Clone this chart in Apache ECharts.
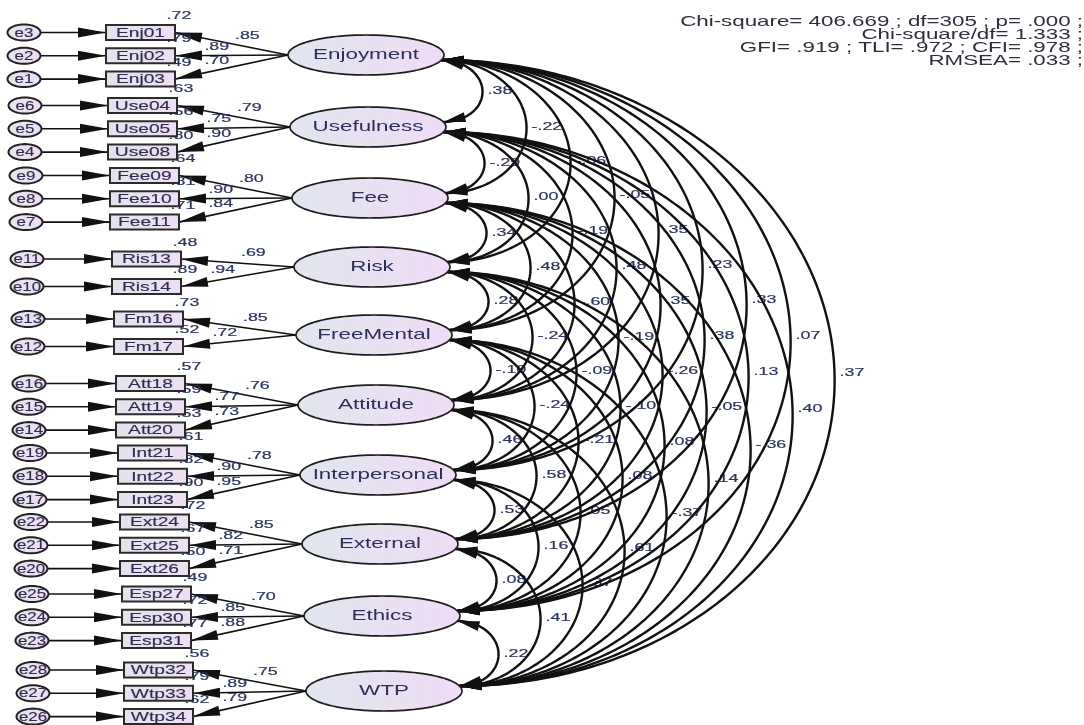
<!DOCTYPE html>
<html>
<head>
<meta charset="utf-8">
<title>CFA measurement model</title>
<script src="https://cdn.jsdelivr.net/npm/echarts/dist/echarts.min.js"></script>
<style>
  html, body { margin: 0; padding: 0; background: #ffffff; }
  #chart { width: 1084px; height: 725px; }
</style>
</head>
<body>
<div id="chart"></div>
<script>
// ---- model content ----
const factors = ['Enjoyment', 'Usefulness', 'Fee', 'Risk', 'FreeMental', 'Attitude', 'Interpersonal', 'External', 'Ethics', 'WTP'];

const indicators = [
  ['Enj01', 'Enj02', 'Enj03'], ['Use04', 'Use05', 'Use08'], ['Fee09', 'Fee10', 'Fee11'],
  ['Ris13', 'Ris14'], ['Fm16', 'Fm17'], ['Att18', 'Att19', 'Att20'],
  ['Int21', 'Int22', 'Int23'], ['Ext24', 'Ext25', 'Ext26'], ['Esp27', 'Esp30', 'Esp31'],
  ['Wtp32', 'Wtp33', 'Wtp34']
];

const errorTerms = [
  ['e3', 'e2', 'e1'], ['e6', 'e5', 'e4'], ['e9', 'e8', 'e7'], ['e11', 'e10'], ['e13', 'e12'],
  ['e16', 'e15', 'e14'], ['e19', 'e18', 'e17'], ['e22', 'e21', 'e20'], ['e25', 'e24', 'e23'],
  ['e28', 'e27', 'e26']
];

// standardized factor loadings
const loadings = [
  [0.85, 0.89, 0.70], [0.79, 0.75, 0.90], [0.80, 0.90, 0.84], [0.69, 0.94], [0.85, 0.72],
  [0.76, 0.77, 0.73], [0.78, 0.90, 0.95], [0.85, 0.82, 0.71], [0.70, 0.85, 0.88], [0.75, 0.89, 0.79]
];

// squared multiple correlations
const smc = [
  [0.72, 0.79, 0.49], [0.63, 0.56, 0.80], [0.64, 0.81, 0.71], [0.48, 0.89], [0.73, 0.52],
  [0.57, 0.59, 0.53], [0.61, 0.82, 0.90], [0.72, 0.67, 0.50], [0.49, 0.72, 0.77], [0.56, 0.79, 0.62]
];

// factor correlations, grouped by how many rows apart the two factors are
const corrSpan1 = [0.38, -0.29, 0.34, 0.28, -0.10, 0.46, 0.53, 0.08, 0.22];
const corrSpan2 = [-0.22, 0.00, 0.48, -0.24, -0.24, 0.58, 0.16, 0.41];
const corrSpan3 = [-0.06, -0.19, -0.60, -0.09, -0.21, 0.05, 0.37];
const corrSpan4 = [-0.05, 0.48, -0.19, -0.10, 0.08, 0.61];
const corrSpan5 = [0.35, 0.35, -0.26, 0.08, -0.37];
const corrSpan6 = [0.23, 0.38, -0.05, 0.14];
const corrSpan7 = [0.33, 0.13, -0.36];
const corrSpan8 = [0.07, 0.40];
const corrSpan9 = [0.37];

const fitLines = [
  'Chi-square= 406.669 ; df=305 ; p= .000 ;',
  'Chi-square/df= 1.333 ;',
  'GFI= .919 ; TLI= .972 ; CFI= .978 ;',
  'RMSEA= .033 ;'
];

// ---- layout ----
const ROW_Y = [55, 127, 198, 267, 335, 405, 475, 544, 616, 691];
const GROUP_TOP = [32.5, 105.5, 175.5, 259, 319, 383.5, 453, 522, 594, 670];
const ELL_RX = 78, ELL_RY = 20;
const BOX_W = 69, BOX_H = 15;
const ERR_RX = 16.5, ERR_RY = 8;
const FONT = '"Liberation Sans", Arial, Helvetica, sans-serif';

const factorCx = i => 366 + 2 * i;
const boxLeft = f => 106 + 2 * f;
const errCx = f => 0.5 * boxLeft(f) - 29;
const indY = (f, k) => GROUP_TOP[f] + k * (indicators[f].length === 3 ? 23.3 : 27.5);

const fmt = v => (v < 0 ? '-' : '') + Math.abs(v).toFixed(2).replace(/^0/, '');

// flat lists built from the arrays above
const items = [];
indicators.forEach((g, f) => g.forEach((name, k) => items.push({
  f, k, name, err: errorTerms[f][k], load: loadings[f][k], r2: smc[f][k]
})));

const pairs = [];
[corrSpan1, corrSpan2, corrSpan3, corrSpan4, corrSpan5, corrSpan6, corrSpan7, corrSpan8, corrSpan9]
  .forEach((row, s) => row.forEach((v, i) => pairs.push({ i, j: i + s + 1, d: s + 1, v })));

// ---- geometry helpers ----
function ellipsePts(api, cx, cy, rx, ry, n) {
  const pts = [];
  for (let t = 0; t < n; t++) {
    const a = 2 * Math.PI * t / n;
    pts.push(api.coord([cx + rx * Math.cos(a), cy + ry * Math.sin(a)]));
  }
  return pts;
}
function arrowHead(tip, from, len, hw) {
  const dx = tip[0] - from[0], dy = tip[1] - from[1];
  const d = Math.hypot(dx, dy) || 1;
  const ux = dx / d, uy = dy / d;
  const bx = tip[0] - ux * len, by = tip[1] - uy * len;
  return [tip, [bx - uy * hw, by + ux * hw], [bx + uy * hw, by - ux * hw]];
}
function pointBack(seq, L) {
  const t = seq[0];
  for (const q of seq) if (Math.hypot(q[0] - t[0], q[1] - t[1]) >= L) return q;
  return seq[seq.length - 1];
}
function rimPoint(i, dy) {
  return [factorCx(i) + ELL_RX * Math.sqrt(1 - (dy / ELL_RY) ** 2), ROW_Y[i] + dy];
}
function arcGeom(p) {
  const A = rimPoint(p.i, 5), B = rimPoint(p.j, -5);
  const s = 40 + 43 * (p.d - 1);
  return { A, B, s };
}
// horizontally stretched text, anchored at (x, y)
function txt(api, x, y, text, size, fill, align, sx, weight) {
  const c = api.coord([x, y]);
  return {
    type: 'text', x: c[0], y: c[1], scaleX: sx,
    style: {
      text, font: size + 'px ' + FONT, fill,
      stroke: fill, lineWidth: weight || 0,
      align: align, verticalAlign: 'middle',
      textAlign: align, textVerticalAlign: 'middle'
    }
  };
}
const dummy = list => list.map((_, i) => [0, 0, i]);
const base = { type: 'custom', coordinateSystem: 'cartesian2d', silent: true, encode: { x: 0, y: 1 } };

const numColor = '#2a3461';

const chart = echarts.init(document.getElementById('chart'));
chart.setOption({
  animation: false,
  backgroundColor: '#ffffff',
  grid: { left: 0, right: 0, top: 0, bottom: 0 },
  xAxis: { type: 'value', min: 0, max: 1084, show: false },
  yAxis: { type: 'value', min: 0, max: 725, inverse: true, show: false },
  series: [
    // correlation values
    Object.assign({}, base, {
      z: 1, data: dummy(pairs),
      renderItem(params, api) {
        const p = pairs[params.dataIndex];
        const g = arcGeom(p);
        const x = (g.A[0] + g.B[0]) / 2 + g.s + 5;
        const y = (g.A[1] + g.B[1]) / 2;
        return txt(api, x, y, fmt(p.v), 11.5, numColor, 'left', 1.55, 0.2);
      }
    }),
    // correlation arcs with double arrowheads
    Object.assign({}, base, {
      z: 2, data: dummy(pairs),
      renderItem(params, api) {
        const p = pairs[params.dataIndex];
        const g = arcGeom(p);
        const n = 40 + 20 * p.d;
        const pts = [];
        for (let t = 0; t <= n; t++) {
          const th = Math.PI * t / n;
          const w = (1 - Math.cos(th)) / 2;
          pts.push(api.coord([g.A[0] + (g.B[0] - g.A[0]) * w + g.s * Math.sin(th),
                              g.A[1] + (g.B[1] - g.A[1]) * w]));
        }
        const L = 22;
        const h1 = arrowHead(pts[0], pointBack(pts, L), L, 5);
        const rev = pts.slice().reverse();
        const h2 = arrowHead(rev[0], pointBack(rev, L), L, 5);
        return {
          type: 'group', children: [
            { type: 'polyline', shape: { points: pts }, style: { stroke: '#111', lineWidth: 2.4, fill: null } },
            { type: 'polygon', shape: { points: h1 }, style: { fill: '#111' } },
            { type: 'polygon', shape: { points: h2 }, style: { fill: '#111' } }
          ]
        };
      }
    }),
    // loading paths and error paths
    Object.assign({}, base, {
      z: 3, data: dummy(items),
      renderItem(params, api) {
        const it = items[params.dataIndex];
        const y = indY(it.f, it.k);
        const F = api.coord([factorCx(it.f) - ELL_RX, ROW_Y[it.f]]);
        const Bt = api.coord([boxLeft(it.f) + BOX_W, y]);
        const E = api.coord([errCx(it.f) + ERR_RX, y]);
        const Bl = api.coord([boxLeft(it.f), y]);
        return {
          type: 'group', children: [
            { type: 'line', shape: { x1: F[0], y1: F[1], x2: Bt[0], y2: Bt[1] }, style: { stroke: '#111', lineWidth: 1.6 } },
            { type: 'polygon', shape: { points: arrowHead(Bt, F, 27, 5) }, style: { fill: '#111' } },
            { type: 'line', shape: { x1: E[0], y1: E[1], x2: Bl[0], y2: Bl[1] }, style: { stroke: '#111', lineWidth: 1.6 } },
            { type: 'polygon', shape: { points: arrowHead(Bl, E, 28, 5) }, style: { fill: '#111' } }
          ]
        };
      }
    }),
    // squared multiple correlations
    Object.assign({}, base, {
      z: 4, data: dummy(items),
      renderItem(params, api) {
        const it = items[params.dataIndex];
        const y = indY(it.f, it.k);
        return txt(api, boxLeft(it.f) + BOX_W + 4, y - BOX_H / 2 - 9, fmt(it.r2), 11.5, numColor, 'center', 1.55, 0.2);
      }
    }),
    // observed variables and their error terms
    Object.assign({}, base, {
      z: 5, data: dummy(items),
      renderItem(params, api) {
        const it = items[params.dataIndex];
        const y = indY(it.f, it.k);
        const tl = api.coord([boxLeft(it.f), y - BOX_H / 2]);
        const br = api.coord([boxLeft(it.f) + BOX_W, y + BOX_H / 2]);
        const ex = errCx(it.f);
        return {
          type: 'group', children: [
            {
              type: 'rect', shape: { x: tl[0], y: tl[1], width: br[0] - tl[0], height: br[1] - tl[1] },
              style: {
                fill: new echarts.graphic.LinearGradient(0, 0, 1, 0, [
                  { offset: 0, color: '#e1e4ec' }, { offset: 1, color: '#eddff3' }]),
                stroke: '#2b2b2b', lineWidth: 2
              }
            },
            txt(api, boxLeft(it.f) + BOX_W / 2, y + 0.5, it.name, 13.5, '#2f2c4e', 'center', 1.42, 0.15),
            {
              type: 'polygon', shape: { points: ellipsePts(api, ex, y, ERR_RX, ERR_RY, 48) },
              style: {
                fill: new echarts.graphic.LinearGradient(0, 0, 1, 0, [
                  { offset: 0, color: '#e6e4ee' }, { offset: 1, color: '#eddcf4' }]),
                stroke: '#222', lineWidth: 2
              }
            },
            txt(api, ex, y + 0.5, it.err, 13, '#302c4a', 'center', 1.3, 0.15)
          ]
        };
      }
    }),
    // latent factors
    Object.assign({}, base, {
      z: 6, data: dummy(factors),
      renderItem(params, api) {
        const i = params.dataIndex;
        return {
          type: 'group', children: [
            {
              type: 'polygon', shape: { points: ellipsePts(api, factorCx(i), ROW_Y[i], ELL_RX, ELL_RY, 96) },
              style: {
                fill: new echarts.graphic.LinearGradient(0, 0, 1, 0, [
                  { offset: 0, color: '#e1e6ee' }, { offset: 1, color: '#efdcf6' }]),
                stroke: '#1d1d1d', lineWidth: 1.7
              }
            },
            txt(api, factorCx(i), ROW_Y[i] + 0.5, factors[i], 14, '#2c2f58', 'center', 1.6, 0)
          ]
        };
      }
    }),
    // loading values
    Object.assign({}, base, {
      z: 7, data: dummy(items),
      renderItem(params, api) {
        const it = items[params.dataIndex];
        const y = indY(it.f, it.k);
        const fxL = factorCx(it.f) - ELL_RX, fy = ROW_Y[it.f];
        const bx = boxLeft(it.f) + BOX_W;
        const t = it.k === 0 ? 0.36 : 0.63;
        const lx = fxL + (bx - fxL) * t;
        const ly = fy + (y - fy) * t - (it.k === 0 ? 11.5 : 9);
        return txt(api, lx, ly, fmt(it.load), 11.5, numColor, 'center', 1.55, 0.2);
      }
    }),
    // fit statistics
    Object.assign({}, base, {
      z: 7, data: dummy(fitLines),
      renderItem(params, api) {
        const i = params.dataIndex;
        return txt(api, 1083, 21.5 + 13.2 * i, fitLines[i], 14.5, '#2e2f3c', 'right', 1.54, 0);
      }
    })
  ]
});
</script>
</body>
</html>
